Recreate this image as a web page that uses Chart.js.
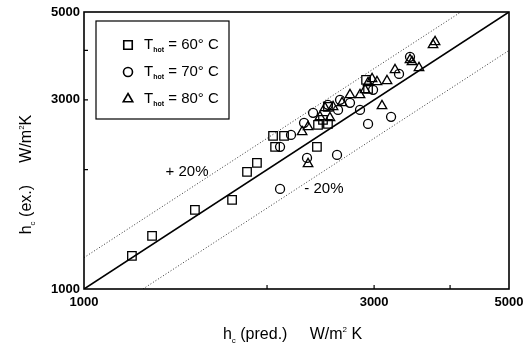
<!DOCTYPE html>
<html>
<head>
<meta charset="utf-8">
<title>h_c ex. vs pred.</title>
<style>
  body { margin: 0; background: #fff; }
</style>
</head>
<body>
<canvas id="myChart" width="531" height="345"></canvas>
<script src="https://cdn.jsdelivr.net/npm/chart.js"></script>
<script>
// values (W/m2 K)
const hot60X = [1199, 1294, 1522, 1752, 1854, 1925, 2046, 2062, 2133, 2416, 2426, 2519, 2519, 2910, 2932, 2472];
const hot60Y = [1212, 1361, 1583, 1678, 1975, 2080, 2434, 2284, 2434, 2284, 2595, 2610, 2882, 3372, 3200, 2672];

const hot70X = [2101, 2101, 2190, 2301, 2327, 2381, 2519, 2607, 2617, 2738, 2844, 2932, 2988, 3199, 3297, 3437, 2637];
const hot70Y = [2284, 1789, 2448, 2626, 2142, 2783, 2915, 2179, 2831, 2949, 2831, 2610, 3181, 2719, 3490, 3854, 3001];

const hot80X = [2284, 2336, 2336, 2444, 2491, 2538, 2568, 2657, 2738, 2844, 2899, 2932, 2977, 3033, 3150, 3091, 3247, 3437, 3463, 3556, 3750, 3779];
const hot80Y = [2492, 2566, 2069, 2719, 2865, 2703, 2882, 2949, 3090, 3090, 3181, 3313, 3391, 3332, 3352, 2898, 3573, 3787, 3743, 3615, 4132, 4205];

// reference lines: exact agreement and +/- 20 %
const parityX = [1000, 5000];
const parityY = [1000, 5000];
const plus20X = [1000, 4167];
const plus20Y = [1200, 5000];
const minus20X = [1250, 5000];
const minus20Y = [1000, 4000];

const tickValues = [1000, 2000, 3000, 4000, 5000];
const tickLabels = [1000, 3000, 5000];

const legendRows = ['60', '70', '80'];
const legendStyles = ['rect', 'circle', 'triangle'];

const zip = (xs, ys) => xs.map((x, i) => ({ x: x, y: ys[i] }));

const FONT = '"Liberation Sans", Arial, sans-serif';

const markerDefaults = {
  type: 'scatter',
  backgroundColor: 'rgba(0,0,0,0)',
  borderColor: '#000',
  borderWidth: 1.3,
};

const datasets = [
  Object.assign({ label: '60', data: zip(hot60X, hot60Y), pointStyle: 'rect', pointRadius: 6 }, markerDefaults),
  Object.assign({ label: '70', data: zip(hot70X, hot70Y), pointStyle: 'circle', pointRadius: 4.5 }, markerDefaults),
  Object.assign({ label: '80', data: zip(hot80X, hot80Y), pointStyle: 'triangle', pointRadius: 5.5 }, markerDefaults),
  { type: 'line', label: 'parity', data: zip(parityX, parityY), borderColor: '#000', borderWidth: 1.6, pointRadius: 0, fill: false },
  { type: 'line', label: '+20', data: zip(plus20X, plus20Y), borderColor: '#333', borderWidth: 1, borderDash: [1, 2], pointRadius: 0, fill: false },
  { type: 'line', label: '-20', data: zip(minus20X, minus20Y), borderColor: '#333', borderWidth: 1, borderDash: [1, 2], pointRadius: 0, fill: false },
];

// draw text runs with sub/superscripts, returns end x
function drawRuns(ctx, x, y, runs) {
  runs.forEach(r => {
    ctx.font = (r.weight || 'normal') + ' ' + r.size + 'px ' + FONT;
    ctx.fillText(r.t, x, y + (r.dy || 0));
    x += ctx.measureText(r.t).width;
  });
  return x;
}
function runsWidth(ctx, runs) {
  let w = 0;
  runs.forEach(r => {
    ctx.font = (r.weight || 'normal') + ' ' + r.size + 'px ' + FONT;
    w += ctx.measureText(r.t).width;
  });
  return w;
}

const xTitle = [
  { t: 'h', size: 16 }, { t: 'c', size: 8, dy: 4 }, { t: ' (pred.)     W/m', size: 16 },
  { t: '2', size: 8, dy: -7 }, { t: ' K', size: 16 }
];
const yTitle = [
  { t: 'h', size: 16 }, { t: 'c', size: 8, dy: 4 }, { t: ' (ex.)     W/m', size: 16 },
  { t: '2', size: 8, dy: -7 }, { t: 'K', size: 16 }
];

const decorPlugin = {
  id: 'decor',
  afterDraw(chart) {
    const ctx = chart.ctx;
    const a = chart.chartArea;
    const xs = chart.scales.x, ys = chart.scales.y;
    ctx.save();
    ctx.fillStyle = '#000';
    ctx.strokeStyle = '#000';

    // frame
    ctx.lineWidth = 1.6;
    ctx.strokeRect(a.left, a.top, a.right - a.left, a.bottom - a.top);

    // inward ticks
    ctx.lineWidth = 1.2;
    ctx.beginPath();
    tickValues.slice(1, -1).forEach(v => {
      const px = xs.getPixelForValue(v);
      ctx.moveTo(px, a.bottom); ctx.lineTo(px, a.bottom - 4);
      const py = ys.getPixelForValue(v);
      ctx.moveTo(a.left, py); ctx.lineTo(a.left + 4, py);
    });
    ctx.stroke();

    // +/- 20 % notes
    ctx.textBaseline = 'middle';
    ctx.textAlign = 'center';
    ctx.font = '15px ' + FONT;
    ctx.fillText('+ 20%', xs.getPixelForValue(1477), ys.getPixelForValue(1975));
    ctx.fillText('- 20%', xs.getPixelForValue(2481), ys.getPixelForValue(1789));

    // legend
    ctx.textAlign = 'left';
    const lx = a.left + 12, ly = a.top + 9, lw = 133, lh = 98;
    ctx.fillStyle = '#fff';
    ctx.fillRect(lx, ly, lw, lh);
    ctx.lineWidth = 1.2;
    ctx.strokeRect(lx, ly, lw, lh);
    legendRows.forEach((t, i) => {
      const cy = ly + 24 + i * 27;
      const ds = chart.data.datasets[i];
      ctx.fillStyle = 'rgba(0,0,0,0)';
      ctx.lineWidth = 1.6;
      Chart.helpers.drawPoint(ctx, { pointStyle: legendStyles[i], radius: ds.pointRadius, borderWidth: 1.6, rotation: 0 }, lx + 32, cy);
      ctx.fillStyle = '#000';
      drawRuns(ctx, lx + 48, cy, [
        { t: 'T', size: 15 }, { t: 'hot', size: 7, dy: 5, weight: 'bold' },
        { t: ' = ' + t + '\u00b0 C', size: 15 }
      ]);
    });

    // axis titles
    ctx.textBaseline = 'alphabetic';
    const xw = runsWidth(ctx, xTitle);
    drawRuns(ctx, (a.left + a.right) / 2 - 4 - xw / 2, 339, xTitle);
    ctx.save();
    ctx.translate(31, (a.top + a.bottom) / 2 + 24);
    ctx.rotate(-Math.PI / 2);
    const yw = runsWidth(ctx, yTitle);
    drawRuns(ctx, -yw / 2, 0, yTitle);
    ctx.restore();

    ctx.restore();
  }
};

const tickFont = { family: FONT, size: 13, weight: 'bold' };

const config = {
  data: { datasets: datasets },
  options: {
    responsive: false,
    animation: false,
    layout: { padding: { left: 0, right: 22, top: 12, bottom: 0 } },
    plugins: {
      legend: { display: false },
      tooltip: { enabled: false },
    },
    scales: {
      x: {
        type: 'logarithmic',
        min: 1000,
        max: 5000,
        afterBuildTicks: s => { s.ticks = tickValues.map(v => ({ value: v })); },
        afterFit: s => { s.height = 56; },
        ticks: {
          autoSkip: false,
          maxRotation: 0,
          padding: 6,
          color: '#000',
          font: tickFont,
          callback: v => tickLabels.includes(v) ? String(v) : '',
        },
        grid: { display: false, drawTicks: false },
        border: { display: false },
      },
      y: {
        type: 'logarithmic',
        min: 1000,
        max: 5000,
        afterBuildTicks: s => { s.ticks = tickValues.map(v => ({ value: v })); },
        afterFit: s => { s.width = 84; },
        ticks: {
          autoSkip: false,
          padding: 4,
          color: '#000',
          font: tickFont,
          callback: v => tickLabels.includes(v) ? String(v) : '',
        },
        grid: { display: false, drawTicks: false },
        border: { display: false },
      }
    }
  },
  plugins: [decorPlugin]
};

new Chart(document.getElementById('myChart'), config);
</script>
</body>
</html>
